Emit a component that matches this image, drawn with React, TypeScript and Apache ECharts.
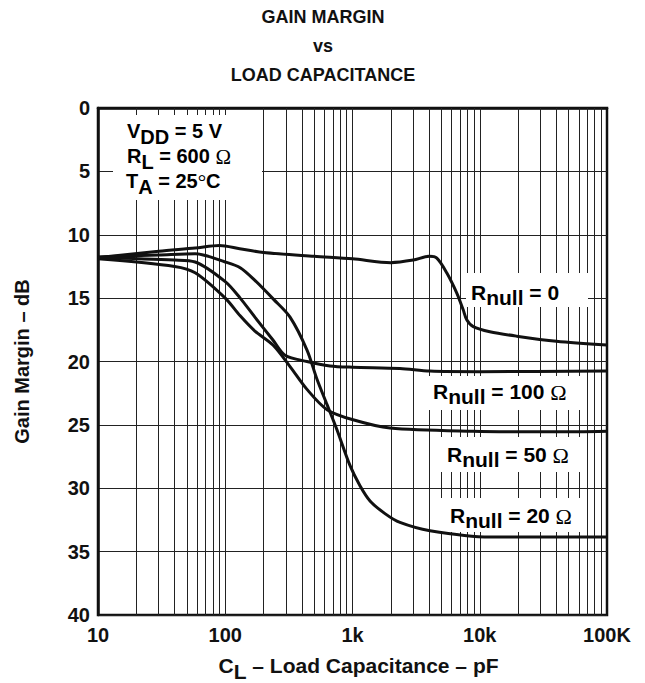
import React, { useEffect, useRef } from "react";
import * as echarts from "echarts";

// ---- data (C in pF, gain margin in dB) ----
const rnull0C = [10, 30, 58, 90, 130, 200, 500, 1000, 2000, 3000, 4000, 4600, 5500, 6600, 7400, 7900, 8900, 12000, 19500, 40000, 100000];
const rnull0DB = [11.8, 11.3, 11.05, 10.85, 11.1, 11.4, 11.7, 11.9, 12.2, 12.0, 11.7, 11.85, 13.0, 14.6, 15.9, 16.7, 17.25, 17.65, 18.0, 18.4, 18.7];

const rnull20C = [10, 30, 58, 100, 131, 171, 240, 323, 439, 526, 631, 756, 955, 1145, 1373, 1800, 2360, 4060, 12000, 30000, 100000];
const rnull20DB = [11.75, 11.6, 11.5, 12.15, 12.6, 13.6, 15.1, 16.5, 19.1, 21.4, 23.4, 25.4, 28.2, 29.8, 31.0, 32.0, 32.7, 33.35, 33.85, 33.85, 33.85];

const rnull50C = [10, 40, 58, 100, 131, 171, 237, 323, 439, 631, 1010, 1970, 8850, 40000, 100000];
const rnull50DB = [11.9, 12.5, 13.0, 15.0, 16.4, 17.6, 18.7, 20.4, 22.2, 23.8, 24.6, 25.25, 25.5, 25.55, 25.5];

const rnull100C = [10, 40, 58, 100, 131, 171, 237, 295, 439, 665, 1000, 2360, 4060, 10000, 100000];
const rnull100DB = [11.8, 12.0, 12.15, 13.7, 15.0, 16.5, 18.3, 19.5, 20.0, 20.35, 20.45, 20.55, 20.75, 20.8, 20.75];

const xTickLabels = ["10", "100", "1k", "10k", "100K"];
const xGridValues = [
  20, 30, 40, 50, 60, 70, 80, 90, 100,
  200, 300, 400, 500, 600, 700, 800, 900, 1000,
  2000, 3000, 4000, 5000, 6000, 7000, 8000, 9000, 10000,
  20000, 30000, 40000, 50000, 60000, 70000, 80000, 90000,
];

const SANS = "'Liberation Sans', Arial, Helvetica, sans-serif";
const SERIF = "'Liberation Serif', 'Times New Roman', serif";
const INK = "#111";

const pairs = (xs: number[], ys: number[]) => xs.map((x, i) => [x, ys[i]]);

const richStyles = (size: number, drop: number) => ({
  m: { fontFamily: SANS, fontWeight: "bold", fontSize: size, color: INK, lineHeight: 18, verticalAlign: "top" },
  s: { fontFamily: SANS, fontWeight: "bold", fontSize: size, color: INK, lineHeight: 18, verticalAlign: "top", padding: [drop, 0, 0, 0] },
  o: { fontFamily: SERIF, fontWeight: "normal", fontSize: size + 1, color: INK, lineHeight: 18, verticalAlign: "top" },
});

export default function App() {
  const ref = useRef<HTMLDivElement>(null);

  useEffect(() => {
    if (!ref.current) return;
    const chart = echarts.init(ref.current, undefined, { renderer: "svg" });

    const curve = (name: string, xs: number[], ys: number[]) => ({
      name,
      type: "line",
      data: pairs(xs, ys),
      showSymbol: false,
      smooth: 0.3,
      lineStyle: { color: INK, width: 3 },
      z: 3,
    });

    const label = (text: string, x: number, capCenterY: number, drop: number, size = 21) => ({
      type: "text",
      z: 5,
      style: {
        text,
        x,
        y: capCenterY - 9,
        verticalAlign: "top",
        align: "left",
        rich: richStyles(size, drop),
      },
    });

    const whiteRect = (x: number, y: number, w: number, h: number) => ({
      type: "rect",
      z: 2,
      shape: { x, y, width: w, height: h },
      style: { fill: "#fff" },
    });

    chart.setOption({
      animation: false,
      backgroundColor: "#fff",
      title: {
        text: "GAIN MARGIN\nvs\nLOAD CAPACITANCE",
        left: 323,
        top: 2,
        padding: 0,
        textAlign: "center",
        textStyle: { fontFamily: SANS, fontWeight: "bold", fontSize: 18, lineHeight: 29, color: INK },
      },
      grid: {
        left: 98,
        top: 108,
        width: 509,
        height: 507,
        containLabel: false,
        outerBoundsMode: "none",
        show: true,
        borderColor: INK,
        borderWidth: 2.5,
        backgroundColor: "transparent",
      },
      xAxis: {
        type: "log",
        logBase: 10,
        min: 10,
        max: 100000,
        name: "{m|C}{s|L}{m| – Load Capacitance – pF}",
        nameLocation: "middle",
        nameGap: 40,
        nameTextStyle: { rich: richStyles(21, 6), padding: [0, 0, 0, 12] },
        axisLine: { show: true, lineStyle: { color: INK, width: 2.5 } },
        axisTick: { show: false },
        splitLine: { show: false },
        axisLabel: {
          show: true,
          showMinLabel: true,
          showMaxLabel: true,
          margin: 10,
          fontFamily: SANS,
          fontWeight: "bold",
          fontSize: 20,
          color: INK,
          formatter: (v: number) => xTickLabels[Math.round(Math.log10(v)) - 1] ?? "",
        },
      },
      yAxis: {
        type: "value",
        inverse: true,
        min: 0,
        max: 40,
        interval: 5,
        name: "Gain Margin – dB",
        nameLocation: "middle",
        nameGap: 66,
        nameRotate: 90,
        nameTextStyle: { fontFamily: SANS, fontWeight: "bold", fontSize: 20, color: INK },
        axisLine: { show: true, lineStyle: { color: INK, width: 2.5 } },
        axisTick: { show: false },
        splitLine: { show: true, lineStyle: { color: "#222", width: 1 } },
        axisLabel: { margin: 8, fontFamily: SANS, fontWeight: "bold", fontSize: 20, color: INK },
      },
      series: [
        {
          name: "grid",
          type: "line",
          data: [[10, 0]],
          showSymbol: false,
          lineStyle: { width: 0 },
          silent: true,
          z: 1,
          markLine: {
            silent: true,
            z: 1,
            symbol: ["none", "none"],
            label: { show: false },
            lineStyle: { type: "solid", color: "#222", width: 1 },
            emphasis: { disabled: true },
            data: xGridValues.map((v) => ({ xAxis: v })),
          },
        },
        curve("Rnull = 0", rnull0C, rnull0DB),
        curve("Rnull = 20 Ω", rnull20C, rnull20DB),
        curve("Rnull = 50 Ω", rnull50C, rnull50DB),
        curve("Rnull = 100 Ω", rnull100C, rnull100DB),
      ],
      graphic: [
        whiteRect(113, 115, 149, 85),
        whiteRect(466, 273, 122, 34),
        whiteRect(422, 376, 163, 34),
        whiteRect(437, 437, 148, 35),
        whiteRect(440, 498, 145, 34),
        label("{m|V}{s|DD}{m| = 5 V}", 127, 130, 6, 20),
        label("{m|R}{s|L}{m| = 600 }{o|Ω}", 127, 155, 6, 20),
        label("{m|T}{s|A}{m| = 25}{o|°}{m|C}", 126, 180, 6, 20),
        label("{m|R}{s|null}{m| = 0}", 471, 291, 5),
        label("{m|R}{s|null}{m| = 100 }{o|Ω}", 433, 390, 5),
        label("{m|R}{s|null}{m| = 50 }{o|Ω}", 447, 453, 5),
        label("{m|R}{s|null}{m| = 20 }{o|Ω}", 450, 514, 5),
      ],
    });

    return () => chart.dispose();
  }, []);

  return (
    <div
      ref={ref}
      style={{ position: "absolute", left: 0, top: 0, width: 645, height: 683 }}
    />
  );
}
